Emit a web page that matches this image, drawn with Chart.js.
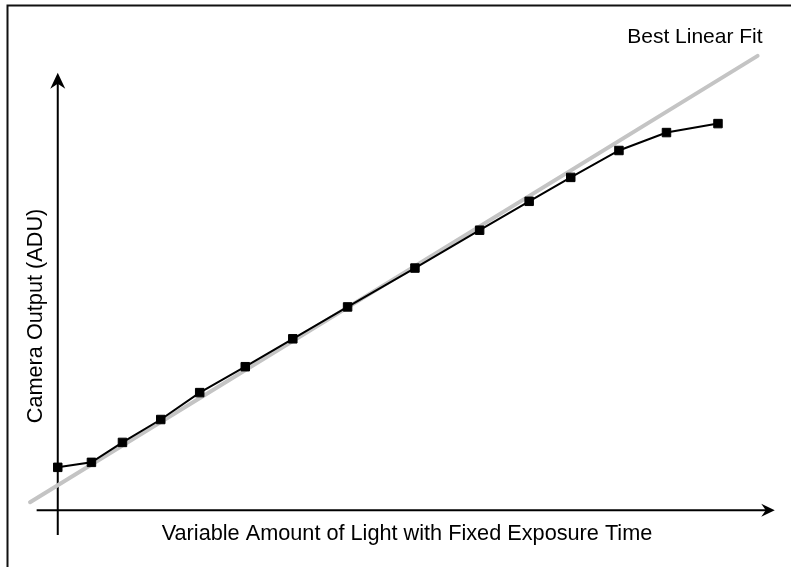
<!DOCTYPE html>
<html><head><meta charset="utf-8">
<script src="https://cdn.jsdelivr.net/npm/chart.js@4/dist/chart.umd.min.js"></script>
<style>html,body{margin:0;padding:0;background:#fff;overflow:hidden}#wrap{width:791px;height:567px;position:relative}</style>
</head><body><div id="wrap"><canvas id="c" width="791" height="567"></canvas></div>
<script>
// Data (arbitrary light units, ADU)
const lightLevels = [0, 5.1, 9.8, 15.6, 21.5, 28.4, 35.6, 43.9, 54.1, 63.9, 71.4, 77.7, 85.0, 92.2, 100];
const cameraOutput = [430, 480, 680, 910, 1180, 1440, 1720, 2040, 2430, 2810, 3100, 3340, 3610, 3790, 3880];
const fitX = [-4.2, 106.0];
const fitY = [80, 4560];
const xAxisExtent = [-3.2, 108.6];
const yAxisExtent = [-250, 4390];
const xAxisTitle = 'Variable Amount of Light with Fixed Exposure Time';
const yAxisTitle = 'Camera Output (ADU)';
const fitLabel = 'Best Linear Fit';

const FONT = '21.7px "Liberation Sans", Arial, Helvetica, sans-serif';
const FIT_FONT = '21px "Liberation Sans", Arial, Helvetica, sans-serif';

const decor = {
  id: 'decor',
  beforeDatasetsDraw(chart) {
    const {ctx, scales: {x, y}} = chart;
    const x0 = x.getPixelForValue(0), y0 = y.getPixelForValue(0);
    ctx.save();
    // frame
    ctx.strokeStyle = '#111'; ctx.lineWidth = 2;
    ctx.strokeRect(7.5, 5.5, 820, 620);
    ctx.strokeStyle = '#000'; ctx.fillStyle = '#000'; ctx.lineWidth = 2;
    // y axis
    const yTop = y.getPixelForValue(yAxisExtent[1]), yBot = y.getPixelForValue(yAxisExtent[0]);
    ctx.beginPath(); ctx.moveTo(x0, yBot); ctx.lineTo(x0, yTop + 8); ctx.stroke();
    ctx.beginPath();
    ctx.moveTo(x0, yTop); ctx.lineTo(x0 + 7.5, yTop + 16); ctx.lineTo(x0, yTop + 11); ctx.lineTo(x0 - 7.5, yTop + 16);
    ctx.closePath(); ctx.fill();
    // x axis
    const xL = x.getPixelForValue(xAxisExtent[0]), xR = x.getPixelForValue(xAxisExtent[1]);
    ctx.beginPath(); ctx.moveTo(xL, y0); ctx.lineTo(xR - 6, y0); ctx.stroke();
    ctx.beginPath();
    ctx.moveTo(xR, y0); ctx.lineTo(xR - 13.5, y0 - 6.5); ctx.lineTo(xR - 9, y0); ctx.lineTo(xR - 13.5, y0 + 6.5);
    ctx.closePath(); ctx.fill();
    // titles
    ctx.font = FONT; ctx.fillStyle = '#000';
    ctx.textAlign = 'center'; ctx.textBaseline = 'alphabetic';
    ctx.fillText(xAxisTitle, 407, y0 + 30);
    ctx.save();
    ctx.translate(x0 - 16, 316);
    ctx.rotate(-Math.PI / 2);
    ctx.fillText(yAxisTitle, 0, 0);
    ctx.restore();
    ctx.font = FIT_FONT;
    ctx.textAlign = 'right';
    const fx = x.getPixelForValue(fitX[1]);
    ctx.fillText(fitLabel, fx + 5, 43);
    ctx.restore();
  }
};

new Chart(document.getElementById('c'), {
  type: 'line',
  data: {
    datasets: [
      {
        data: lightLevels.map((v, i) => ({x: v, y: cameraOutput[i]})),
        borderColor: '#000', borderWidth: 2, tension: 0,
        pointStyle: 'rect', pointRadius: 6, pointBorderWidth: 1,
        pointBackgroundColor: '#000', pointBorderColor: '#000'
      },
      {
        data: fitX.map((v, i) => ({x: v, y: fitY[i]})),
        borderColor: '#c4c4c4', borderWidth: 4, tension: 0,
        borderCapStyle: 'round', pointRadius: 0
      }
    ]
  },
  options: {
    responsive: false, animation: false, events: [],
    layout: {padding: {left: 24.75, right: 1.5, top: 12, bottom: 5}},
    scales: {
      x: {type: 'linear', display: false, min: -5, max: 110},
      y: {type: 'linear', display: false, min: -500, max: 5000}
    },
    plugins: {legend: {display: false}, tooltip: {enabled: false}}
  },
  plugins: [decor]
});
</script>
</body></html>
